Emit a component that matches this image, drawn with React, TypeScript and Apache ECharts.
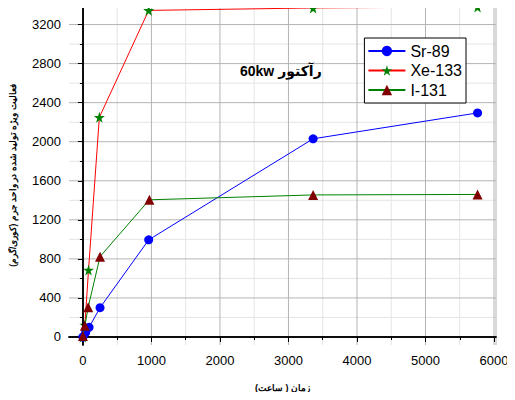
import React, { useEffect, useRef } from "react";
import * as echarts from "echarts";

const srX = [0, 40, 90, 250, 960, 3360, 5760];
const srY = [0, 45, 99, 300, 995, 2030, 2295];
const xeX = [0, 29, 82, 240, 960, 3360, 5760];
const xeY = [0, 123, 687, 2250, 3345, 3370, 3380];
const iX = [0, 29, 77, 250, 970, 3360, 5760];
const iY = [10, 115, 305, 823, 1405, 1455, 1460];

const xTicks = [0, 1000, 2000, 3000, 4000, 5000, 6000];
const xMinorTicks = [500, 1500, 2500, 3500, 4500, 5500];
const yTicks = [0, 400, 800, 1200, 1600, 2000, 2400, 2800, 3200];
const yMinorTicks = [200, 600, 1000, 1400, 1800, 2200, 2600, 3000];

const seriesNames = ["Sr-89", "Xe-133", "I-131"];
const xTitle = "زمان ( ساعت)";
const yTitle = "فعالیت ویژه تولید شده در واحد جرم (کوری/گرم)";
const noteText = "60kw رآکتور";

const X_MIN = -203;
const X_MAX = 6029;
const Y_MIN = -82;
const Y_MAX = 3390;

const pairs = (xs: number[], ys: number[]) => xs.map((x, i) => [x, ys[i]]);

export default function App() {
  const ref = useRef<HTMLDivElement>(null);
  useEffect(() => {
    const chart = echarts.init(ref.current!, null, { renderer: "svg" });
    const font = "Arial, 'Liberation Sans', sans-serif";
    const majorStyle = { color: "#b4b4b4", type: "solid", width: 1 };
    const minorStyle = { color: "#e4e4e4", type: "solid", width: 1 };
    const vLines = (vals: number[], style: any, tag: string) =>
      vals.map((v, i) => ({
        name: "v" + tag + i,
        type: "line",
        data: [[v, Y_MIN], [v, Y_MAX]],
        symbol: "none",
        showSymbol: false,
        silent: true,
        lineStyle: style,
        itemStyle: { color: style.color },
        z: 1,
      }));
    const hLines = (vals: number[], style: any, tag: string) =>
      vals.map((v, i) => ({
        name: "h" + tag + i,
        type: "line",
        data: [[X_MIN, v], [X_MAX, v]],
        symbol: "none",
        showSymbol: false,
        silent: true,
        lineStyle: style,
        itemStyle: { color: style.color },
        z: 1,
      }));
    const axisLine = { show: true, lineStyle: { color: "#000", width: 1.5 } };
    chart.setOption({
      animation: false,
      backgroundColor: "#fff",
      grid: { left: 66, right: 19, top: 6, bottom: 55 },
      xAxis: [
        {
          type: "value",
          min: X_MIN,
          max: X_MAX,
          axisLine,
          axisTick: { show: true, length: 5, lineStyle: { color: "#000" }, customValues: xTicks },
          axisLabel: {
            color: "#000",
            fontSize: 13,
            fontFamily: font,
            margin: 9,
            customValues: xTicks,
            formatter: (v: number) => String(v),
          },
          splitLine: { show: false },
          name: xTitle,
          nameLocation: "middle",
          nameGap: 38,
          nameTextStyle: { fontSize: 9, fontWeight: "bold", color: "#000", fontFamily: font },
          z: 3,
        },
        {
          type: "value",
          min: X_MIN,
          max: X_MAX,
          position: "bottom",
          axisLine,
          axisTick: { show: true, length: 3, lineStyle: { color: "#000" }, customValues: xMinorTicks },
          axisLabel: { show: false, customValues: xMinorTicks },
          splitLine: { show: false },
          z: 3,
        },
      ],
      yAxis: [
        {
          type: "value",
          min: Y_MIN,
          max: Y_MAX,
          axisLine,
          axisTick: { show: true, length: 5, lineStyle: { color: "#000" }, customValues: yTicks },
          axisLabel: {
            color: "#000",
            fontSize: 13,
            fontFamily: font,
            margin: 8,
            customValues: yTicks,
            formatter: (v: number) => String(v),
          },
          splitLine: { show: false },
          name: yTitle,
          nameLocation: "middle",
          nameGap: 52,
          nameRotate: 90,
          nameTextStyle: { fontSize: 8.5, fontWeight: "bold", color: "#000", fontFamily: font },
          z: 3,
        },
        {
          type: "value",
          min: Y_MIN,
          max: Y_MAX,
          position: "left",
          axisLine,
          axisTick: { show: true, length: 3, lineStyle: { color: "#000" }, customValues: yMinorTicks },
          axisLabel: { show: false, customValues: yMinorTicks },
          splitLine: { show: false },
          z: 3,
        },
      ],
      legend: {
        orient: "vertical",
        right: 49,
        top: 38,
        backgroundColor: "#fff",
        borderColor: "#000",
        borderWidth: 1,
        borderRadius: 0,
        padding: [5, 4, 5, 3],
        itemGap: 3.5,
        itemWidth: 37,
        itemHeight: 13,
        textStyle: { fontSize: 16, color: "#000", fontFamily: font },
        data: seriesNames,
        z: 10,
      },
      graphic: [
        {
          type: "text",
          left: 240,
          top: 64,
          z: 10,
          style: { text: noteText, fill: "#000", font: "bold 14px Arial, 'Liberation Sans', 'DejaVu Sans', sans-serif" },
        },
      ],
      series: [
        ...vLines(xMinorTicks, minorStyle, "m"),
        ...hLines(yMinorTicks, minorStyle, "m"),
        ...vLines([...xTicks, X_MAX], majorStyle, "M"),
        ...hLines([...yTicks, Y_MAX], majorStyle, "M"),
        {
          name: seriesNames[0],
          type: "line",
          data: pairs(srX, srY),
          symbol: "circle",
          symbolSize: 9,
          lineStyle: { color: "#0000ff", width: 1 },
          itemStyle: { color: "#0000ff" },
          z: 3,
        },
        {
          name: seriesNames[1],
          type: "line",
          data: pairs(xeX, xeY),
          symbol: "path://M50,0 L61,35 L98,35 L68,57 L79,91 L50,70 L21,91 L32,57 L2,35 L39,35 Z",
          symbolSize: 11,
          lineStyle: { color: "#ff0000", width: 1 },
          itemStyle: { color: "#008000" },
          z: 2,
        },
        {
          name: seriesNames[2],
          type: "line",
          data: pairs(iX, iY),
          symbol: "triangle",
          symbolSize: 10,
          lineStyle: { color: "#008000", width: 1 },
          itemStyle: { color: "#800000" },
          z: 4,
        },
      ],
    });
    return () => chart.dispose();
  }, []);
  return <div ref={ref} style={{ width: 515, height: 400, margin: -8 }} />;
}
